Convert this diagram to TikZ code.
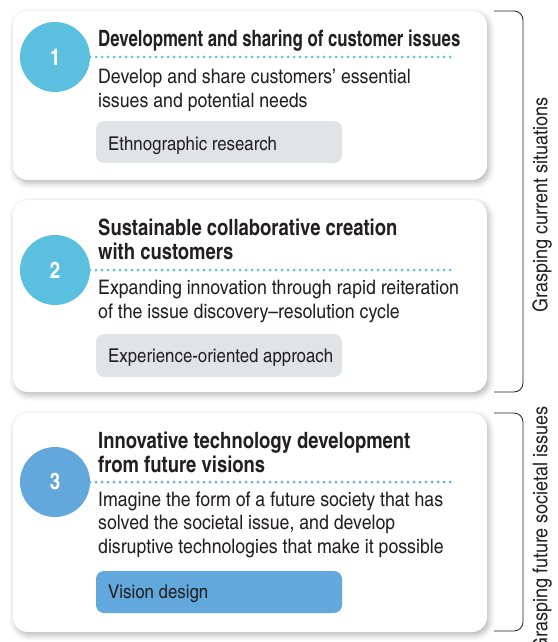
\documentclass[tikz,border=0pt]{standalone}
\usepackage{fontspec}
\setmainfont{texgyreheroscn-regular.otf}[
  BoldFont=texgyreheroscn-bold.otf,
  UprightFeatures={FakeStretch=1.08},
  BoldFeatures={FakeStretch=1.0}]
\usetikzlibrary{shadows.blur}
\definecolor{cyanstep}{RGB}{91,192,224}
\definecolor{bluestep}{RGB}{99,168,220}
\definecolor{methodgray}{RGB}{224,228,228}
\definecolor{ink}{RGB}{35,31,32}
\tikzset{
  card/.style={fill=white, rounded corners=15pt,
    blur shadow={shadow xshift=2pt, shadow yshift=-3pt, shadow blur radius=6pt, shadow opacity=30}},
  numdisc/.style={circle, minimum size=70pt, inner sep=0pt, text=white,
    font=\bfseries\fontsize{23}{23}\selectfont},
  heading/.style={anchor=base west, inner sep=0pt, align=left, text=ink,
    font=\bfseries\fontsize{22.5}{24}\selectfont},
  body/.style={anchor=base west, inner sep=0pt, align=left, text=ink,
    font=\fontsize{20}{23.5}\selectfont},
  method/.style={rounded corners=8pt},
  methodlabel/.style={anchor=base west, inner sep=0pt, text=ink,
    font=\fontsize{19}{24}\selectfont},
  dotrule/.style={line width=3pt, line cap=round, dash pattern=on 0pt off 6pt},
  bracket/.style={line width=0.8pt, rounded corners=9pt, draw=ink},
  sidelabel/.style={rotate=90, inner sep=0pt, text=ink,
    font=\fontsize{20.3}{24}\selectfont}
}
\begin{document}
\begin{tikzpicture}[x=1pt, y=-1pt]
\useasboundingbox (0,0) rectangle (557,642);

% cards
\path[card] (13,11) rectangle (487,180);
\path[card] (13,200) rectangle (487,392);
\path[card] (13,413) rectangle (487,632);

% step 1 (text nodes are placed at the baseline of their last line)
\coordinate (r1a) at (90,57);
\coordinate (r1b) at (455,57);
\draw[dotrule, cyanstep] (r1a) -- (r1b);
\node[numdisc, fill=cyanstep] (n1) at (55,57) {1};
\node[heading] (h1) at (98,47) {\scalebox{0.91}[1]{Development and sharing of customer issues}};
\node[body] (b1) at (98,107) {Develop and share customers’ essential\\issues and potential needs};
\path[method, fill=methodgray] (96,121) rectangle (342,163);
\node[methodlabel] (m1) at (108,150) {Ethnographic research};

% step 2
\coordinate (r2a) at (90,270);
\coordinate (r2b) at (455,270);
\draw[dotrule, cyanstep] (r2a) -- (r2b);
\node[numdisc, fill=cyanstep] (n2) at (55,270) {2};
\node[heading] (h2) at (98,259) {Sustainable collaborative creation\\with customers};
\node[body] (b2) at (98,318) {Expanding innovation through rapid reiteration\\of the issue discovery–resolution cycle};
\path[method, fill=methodgray] (96,334) rectangle (342,377);
\node[methodlabel] (m2) at (108,362) {Experience-oriented approach};

% step 3
\coordinate (r3a) at (90,482);
\coordinate (r3b) at (455,482);
\draw[dotrule, bluestep] (r3a) -- (r3b);
\node[numdisc, fill=bluestep] (n3) at (55,482) {3};
\node[heading] (h3) at (98,472) {Innovative technology development\\from future visions};
\node[body] (b3) at (98,553) {Imagine the form of a future society that has\\solved the societal issue, and develop\\disruptive technologies that make it possible};
\path[method, fill=bluestep] (96,571) rectangle (342,613);
\node[methodlabel] (m3) at (108,598) {Vision design};

% side brackets
\draw[bracket] (494,11) -- (523,11) -- (523,392) -- (494,392);
\draw[bracket] (494,413) -- (523,413) -- (523,631) -- (494,631);
\node[sidelabel] (s1) at (542,205) {Grasping current situations};
\node[sidelabel] (s2) at (542,529) {Grasping future societal issues};
\end{tikzpicture}
\end{document}
